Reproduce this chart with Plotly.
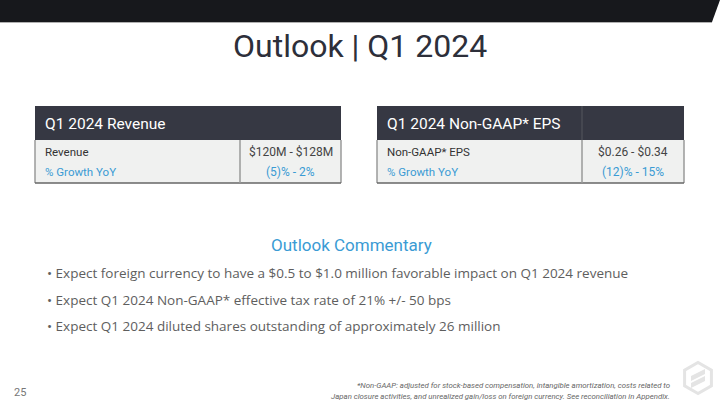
import plotly.graph_objects as go
import math

title = "Outlook | Q1 2024"
table_titles = ["Q1 2024 Revenue", "Q1 2024 Non-GAAP* EPS"]
row_labels = [["Revenue", "% Growth YoY"], ["Non-GAAP* EPS", "% Growth YoY"]]
row_values = [["$120M - $128M", "(5)% - 2%"], ["$0.26 - $0.34", "(12)% - 15%"]]
commentary_title = "Outlook Commentary"
bullets = [
    "Expect foreign currency to have a $0.5 to $1.0 million favorable impact on Q1 2024 revenue",
    "Expect Q1 2024 Non-GAAP* effective tax rate of 21% +/- 50 bps",
    "Expect Q1 2024 diluted shares outstanding of approximately 26 million",
]
footnote = ["*Non-GAAP: adjusted for stock-based compensation, intangible amortization, costs related to",
            "Japan closure activities, and unrealized gain/loss on foreign currency. See reconciliation in Appendix."]
page_no = "25"

DARK = "#363843"
BLUE = "#3a9bd4"
GRAY_TXT = "#5e5e5e"
BODY = "#f0f1f0"
BORDER = "#9a9a9a"

fig = go.Figure()
fig.add_trace(go.Scatter(x=[0, 720], y=[0, 405], mode="markers", marker=dict(opacity=0), hoverinfo="skip", showlegend=False))

shapes = []
ann = []

# top bar
shapes.append(dict(type="path", path="M0,0 L720,0 L712,22 L0,22 Z", fillcolor="#17181c", line=dict(width=0), layer="above"))
shapes.append(dict(type="line", x0=0, x1=712, y0=22.5, y1=22.5, line=dict(color="#b0b0b0", width=1)))

ann.append(dict(x=360, y=46, text=title, showarrow=False, xanchor="center", yanchor="middle",
                font=dict(family="Roboto, Arial", size=32, color="#2d2f3a")))

tables = [(35, 341, 240), (377, 684, 582)]
for i, (x0, x1, xd) in enumerate(tables):
    shapes.append(dict(type="rect", x0=x0, x1=x1, y0=106, y1=140, fillcolor=DARK, line=dict(width=0)))
    shapes.append(dict(type="rect", x0=x0, x1=x1, y0=140, y1=183, fillcolor=BODY, line=dict(width=0)))
    shapes.append(dict(type="line", x0=x0, x1=x0, y0=140, y1=183, line=dict(color=BORDER, width=1.5)))
    shapes.append(dict(type="line", x0=x1, x1=x1, y0=140, y1=183, line=dict(color=BORDER, width=1.5)))
    shapes.append(dict(type="line", x0=x0, x1=x1, y0=183, y1=183, line=dict(color="#666", width=1.5)))
    shapes.append(dict(type="line", x0=xd, x1=xd, y0=140, y1=183, line=dict(color=BORDER, width=1.5)))
    if i == 1:
        shapes.append(dict(type="line", x0=xd, x1=xd, y0=106, y1=140, line=dict(color="#55575f", width=1)))
    ann.append(dict(x=x0 + 8, y=124, text=table_titles[i], showarrow=False, xanchor="left", yanchor="middle",
                    font=dict(family="Roboto, Arial", size=15.5, color="white")))
    for j in range(2):
        col = "#333" if j == 0 else BLUE
        yy = 152 + 20 * j
        ann.append(dict(x=x0 + 8, y=yy, text=row_labels[i][j], showarrow=False, xanchor="left", yanchor="middle",
                        font=dict(family="Roboto, Arial", size=11.5, color=col)))
        ann.append(dict(x=(xd + x1) / 2, y=yy, text=row_values[i][j], showarrow=False, xanchor="center", yanchor="middle",
                        font=dict(family="Roboto, Arial", size=12, color="#444" if j == 0 else BLUE)))

ann.append(dict(x=351, y=245, text=commentary_title, showarrow=False, xanchor="center", yanchor="middle",
                font=dict(family="Roboto, Arial", size=17, color=BLUE)))
for k, b in enumerate(bullets):
    ann.append(dict(x=45, y=273 + 26.5 * k, text="• " + b, showarrow=False, xanchor="left", yanchor="middle",
                    font=dict(family="Open Sans, Roboto, Arial", size=13.5, color=GRAY_TXT)))

ann.append(dict(x=12, y=392, text=page_no, showarrow=False, xanchor="left", yanchor="middle",
                font=dict(family="Roboto, Arial", size=11, color="#777")))
for k, line in enumerate(footnote):
    ann.append(dict(x=672, y=385 + 11 * k, text="<i>" + line + "</i>", showarrow=False, xanchor="right", yanchor="middle",
                    font=dict(family="Roboto, Arial", size=7.8, color="#666")))

# logo hexagon
cx, cy, r = 698, 378, 15.5
pts = [(cx + r * math.cos(math.radians(90 + 60 * t)), cy + r * math.sin(math.radians(90 + 60 * t))) for t in range(6)]
path = "M" + " L".join(f"{x:.1f},{y:.1f}" for x, y in pts) + " Z"
shapes.append(dict(type="path", path=path, line=dict(color="#e4e4e4", width=3), fillcolor="rgba(0,0,0,0)"))
shapes.append(dict(type="path", path=f"M{cx-7},{cy-2} L{cx+7},{cy-9} L{cx+7},{cy-4} L{cx-7},{cy+3} Z", fillcolor="#e4e4e4", line=dict(width=0)))
shapes.append(dict(type="path", path=f"M{cx-7},{cy+5} L{cx+7},{cy-2} L{cx+7},{cy+3} L{cx-7},{cy+10} Z", fillcolor="#e4e4e4", line=dict(width=0)))

fig.update_layout(
    width=720, height=405, margin=dict(l=0, r=0, t=0, b=0),
    paper_bgcolor="white", plot_bgcolor="white",
    xaxis=dict(range=[0, 720], visible=False, fixedrange=True),
    yaxis=dict(range=[405, 0], visible=False, fixedrange=True),
    shapes=shapes, annotations=ann, showlegend=False,
)
fig.write_html("out.html", config=dict(displayModeBar=False),
               post_script="document.body.style.margin='0';document.body.style.overflow='hidden';")
